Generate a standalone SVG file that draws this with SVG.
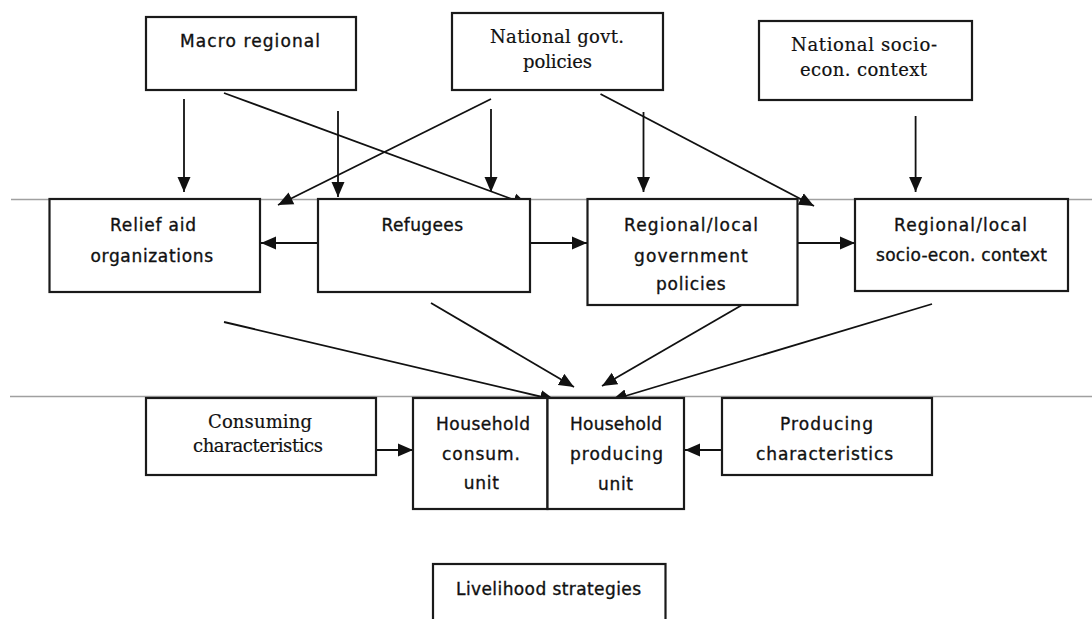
<svg xmlns="http://www.w3.org/2000/svg" width="1092" height="619" viewBox="0 0 1092 619">
<style>
.box{fill:#fff;stroke:#1a1a1a;stroke-width:2.2}
.sep{stroke:#a0a0a0;stroke-width:1.5;fill:none}
.c{stroke:#111;stroke-width:1.8;fill:none;marker-end:url(#ah)}
.s{font-family:"DejaVu Sans","Liberation Sans",sans-serif;font-size:17px;fill:#111;stroke:#111;stroke-width:0.35}
.r{font-family:"DejaVu Serif","Liberation Serif",serif;font-size:18px;fill:#111;stroke:#111;stroke-width:0.2}
</style>
<defs>
<marker id="ah" markerUnits="userSpaceOnUse" markerWidth="16" markerHeight="14" refX="15" refY="7" orient="auto">
<path d="M0,0.5 L15,7 L0,13.5 z" fill="#111"/>
</marker>
</defs>
<rect width="1092" height="619" fill="#fff"/>
<line class="sep" x1="11" y1="199.5" x2="1092" y2="199.5"/>
<line class="sep" x1="10" y1="396.5" x2="1092" y2="396.5"/>

<g id="connectors">
<line class="c" x1="184" y1="99" x2="184" y2="192"/>
<line class="c" x1="224" y1="93" x2="528" y2="205"/>
<line class="c" x1="338" y1="111" x2="338" y2="197"/>
<line class="c" x1="491" y1="99" x2="278" y2="205"/>
<line class="c" x1="491" y1="109" x2="491" y2="192"/>
<line class="c" x1="643.5" y1="112" x2="643.5" y2="192"/>
<line class="c" x1="600.5" y1="94" x2="814" y2="206"/>
<line class="c" x1="915.6" y1="116" x2="915.6" y2="192"/>
<line class="c" x1="318" y1="243" x2="261" y2="243"/>
<line class="c" x1="530" y1="243" x2="587" y2="243"/>
<line class="c" x1="798" y1="243" x2="855" y2="243"/>
<line class="c" x1="224" y1="322" x2="555" y2="400"/>
<line class="c" x1="431" y1="303" x2="574" y2="387"/>
<line class="c" x1="742" y1="305" x2="602" y2="386"/>
<line class="c" x1="932" y1="304" x2="612" y2="400"/>
<line class="c" x1="376" y1="450" x2="413" y2="450"/>
<line class="c" x1="722" y1="450" x2="685" y2="450"/>
</g>

<g id="macro-regional">
<rect class="box" x="146" y="17" width="210" height="73"/>
<text class="s" x="180" y="47" textLength="140" lengthAdjust="spacing">Macro regional</text>
</g>
<g id="national-govt-policies">
<rect class="box" x="452" y="13" width="211" height="77"/>
<text class="r" x="490" y="43" textLength="134" lengthAdjust="spacing">National govt.</text>
<text class="r" x="523" y="68" textLength="69" lengthAdjust="spacing">policies</text>
</g>
<g id="national-socio-econ">
<rect class="box" x="759" y="21" width="213" height="79"/>
<text class="r" x="791" y="51" textLength="146" lengthAdjust="spacing">National socio-</text>
<text class="r" x="800" y="76" textLength="127" lengthAdjust="spacing">econ. context</text>
</g>
<g id="relief-aid">
<rect class="box" x="49.5" y="199" width="210.5" height="93"/>
<text class="s" x="110" y="231" textLength="86" lengthAdjust="spacing">Relief aid</text>
<text class="s" x="90.5" y="262" textLength="122.5" lengthAdjust="spacing">organizations</text>
</g>
<g id="refugees">
<rect class="box" x="318" y="199" width="212" height="93"/>
<text class="s" x="381.6" y="231" textLength="81.4" lengthAdjust="spacing">Refugees</text>
</g>
<g id="regional-govt-policies">
<rect class="box" x="587.5" y="199" width="210" height="106"/>
<text class="s" x="624" y="231" textLength="134" lengthAdjust="spacing">Regional/local</text>
<text class="s" x="634" y="262" textLength="113.7" lengthAdjust="spacing">government</text>
<text class="s" x="656" y="290" textLength="69.5" lengthAdjust="spacing">policies</text>
</g>
<g id="regional-socio-econ">
<rect class="box" x="855" y="199" width="213" height="92"/>
<text class="s" x="894" y="231" textLength="133" lengthAdjust="spacing">Regional/local</text>
<text class="s" x="876" y="261" textLength="171" lengthAdjust="spacing">socio-econ. context</text>
</g>
<g id="consuming-characteristics">
<rect class="box" x="146" y="398" width="230" height="77"/>
<text class="r" x="208" y="428" textLength="104" lengthAdjust="spacing">Consuming</text>
<text class="r" x="193" y="452" textLength="130" lengthAdjust="spacing">characteristics</text>
</g>
<g id="household-consum-unit">
<rect class="box" x="413" y="398" width="134.5" height="111"/>
<text class="s" x="436" y="430" textLength="94" lengthAdjust="spacing">Household</text>
<text class="s" x="442" y="460" textLength="78" lengthAdjust="spacing">consum.</text>
<text class="s" x="463.7" y="489" textLength="35.3" lengthAdjust="spacing">unit</text>
</g>
<g id="household-producing-unit">
<rect class="box" x="547.5" y="398" width="136.5" height="111"/>
<text class="s" x="570" y="430" textLength="92" lengthAdjust="spacing">Household</text>
<text class="s" x="570" y="460" textLength="93" lengthAdjust="spacing">producing</text>
<text class="s" x="598" y="490" textLength="35" lengthAdjust="spacing">unit</text>
</g>
<g id="producing-characteristics">
<rect class="box" x="722" y="398" width="210" height="77"/>
<text class="s" x="780" y="430" textLength="93" lengthAdjust="spacing">Producing</text>
<text class="s" x="756" y="460" textLength="137" lengthAdjust="spacing">characteristics</text>
</g>
<g id="livelihood-strategies">
<rect class="box" x="433" y="564" width="232.5" height="70"/>
<text class="s" x="456" y="595" textLength="185" lengthAdjust="spacing">Livelihood strategies</text>
</g>
</svg>
